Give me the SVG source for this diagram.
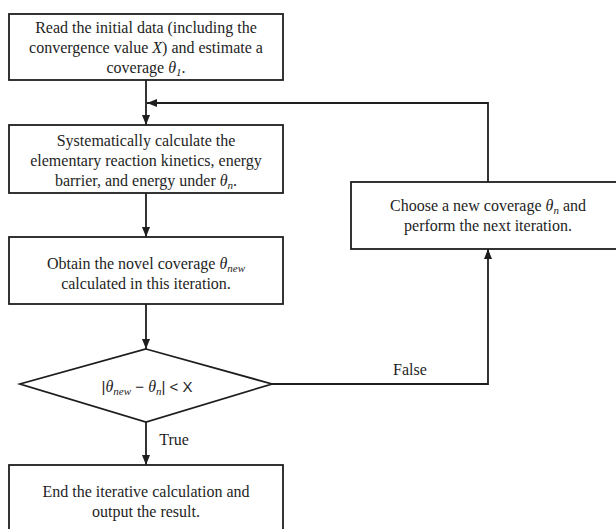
<svg xmlns="http://www.w3.org/2000/svg" width="616" height="529" viewBox="0 0 616 529">
<style>
.box{fill:#fff;stroke:#1e1e1e;stroke-width:1.8}
.ln{fill:none;stroke:#1e1e1e;stroke-width:1.8}
.t{font-family:"Liberation Serif","Times New Roman",serif;font-size:16px;fill:#1e1e1e;text-anchor:middle}
.i{font-style:italic}
.s{font-size:11px;font-style:italic}
.m{font-family:"Liberation Sans",Arial,sans-serif;font-size:15px;fill:#1e1e1e}
</style>
<defs>
<marker id="ah" viewBox="0 0 10 10" refX="10" refY="5" markerWidth="10" markerHeight="10" markerUnits="userSpaceOnUse" orient="auto">
<path d="M0,1 L10,5 L0,9 Z" fill="#1e1e1e"/>
</marker>
</defs>
<rect width="616" height="529" fill="#fff"/>
<g id="connectors">
<line class="ln" x1="146" y1="80" x2="146" y2="125" marker-end="url(#ah)"/>
<polyline class="ln" points="488,182 488,103 147,103" marker-end="url(#ah)"/>
<line class="ln" x1="146" y1="193" x2="146" y2="237" marker-end="url(#ah)"/>
<line class="ln" x1="146" y1="304" x2="146" y2="349" marker-end="url(#ah)"/>
<line class="ln" x1="146" y1="422" x2="146" y2="465" marker-end="url(#ah)"/>
<polyline class="ln" points="272,384 488,384 488,249" marker-end="url(#ah)"/>
<text class="t" x="174" y="445">True</text>
<text class="t" x="410" y="375">False</text>
</g>
<g id="n1">
<rect class="box" x="9" y="14" width="274" height="66"/>
<text class="t" x="146" y="33">Read the initial data (including the</text>
<text class="t" x="146" y="53">convergence value <tspan class="i">X</tspan>) and estimate a</text>
<text class="t" x="146" y="73">coverage <tspan class="i">θ</tspan><tspan class="s" dy="3">1</tspan><tspan dy="-3">.</tspan></text>
</g>
<g id="n2">
<rect class="box" x="9" y="125" width="274" height="68"/>
<text class="t" x="146" y="146">Systematically calculate the</text>
<text class="t" x="146" y="166">elementary reaction kinetics, energy</text>
<text class="t" x="146" y="186">barrier, and energy under <tspan class="i">θ</tspan><tspan class="s" dy="3">n</tspan><tspan dy="-3">.</tspan></text>
</g>
<g id="n3">
<rect class="box" x="9" y="237" width="274" height="67"/>
<text class="t" x="146" y="269">Obtain the novel coverage <tspan class="i">θ</tspan><tspan class="s" dy="3">new</tspan></text>
<text class="t" x="146" y="289">calculated in this iteration.</text>
</g>
<g id="n4">
<polygon class="box" points="146,349 272,384 146,422 20,384"/>
<text x="147" y="392" text-anchor="middle"><tspan class="m">|</tspan><tspan class="t i">θ</tspan><tspan class="t s" dy="3">new</tspan><tspan class="m" dy="-3"> − </tspan><tspan class="t i">θ</tspan><tspan class="t s" dy="3">n</tspan><tspan class="m" dy="-3">| &lt; X</tspan></text>
</g>
<g id="n5">
<rect class="box" x="351" y="182" width="274" height="67"/>
<text class="t" x="488" y="211">Choose a new coverage <tspan class="i">θ</tspan><tspan class="s" dy="3">n</tspan><tspan dy="-3"> and</tspan></text>
<text class="t" x="488" y="231">perform the next iteration.</text>
</g>
<g id="n6">
<rect class="box" x="9" y="465" width="274" height="80"/>
<text class="t" x="146" y="497">End the iterative calculation and</text>
<text class="t" x="146" y="517">output the result.</text>
</g>
</svg>
